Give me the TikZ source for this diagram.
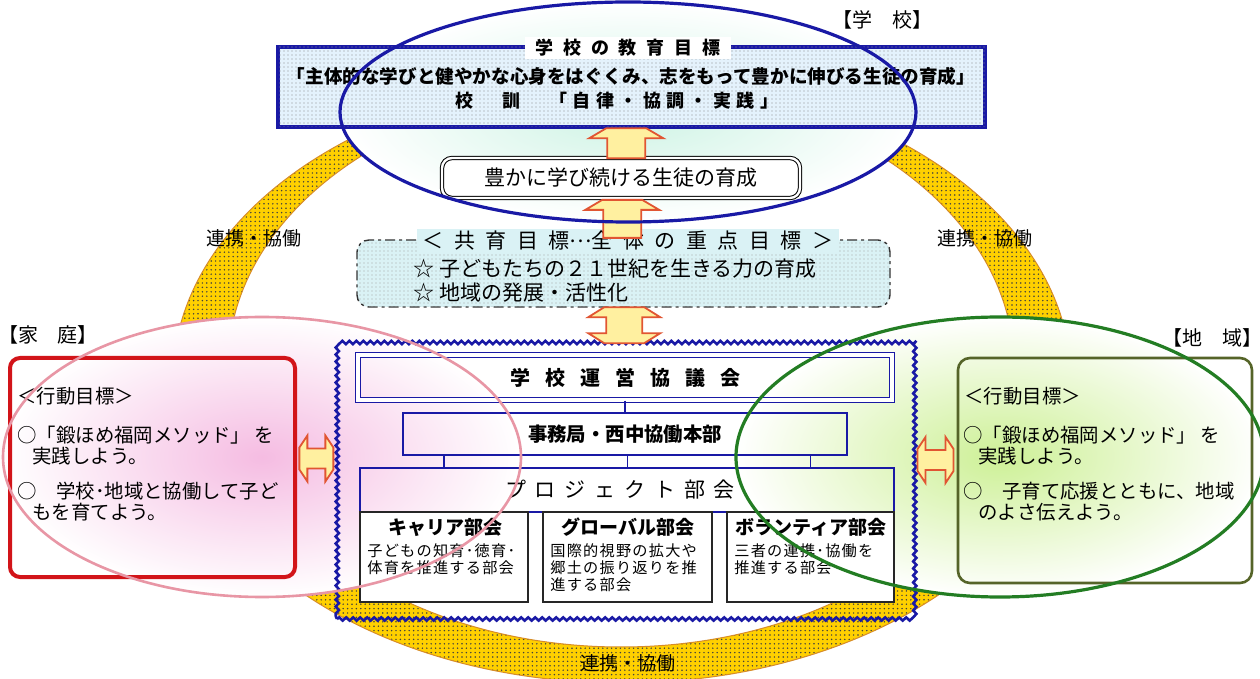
\documentclass[tikz,border=0pt]{standalone}
\usepackage{fontspec}
\setmainfont{Noto Sans CJK JP}
\usetikzlibrary{patterns.meta,decorations.pathmorphing,calc}
\definecolor{blueL}{RGB}{25,25,165}
\definecolor{ringY}{RGB}{255,208,0}
\definecolor{ringE}{RGB}{215,140,40}
\definecolor{pinkL}{RGB}{232,150,165}
\definecolor{pinkF}{RGB}{245,188,226}
\definecolor{greenL}{RGB}{35,125,35}
\definecolor{greenF}{RGB}{205,240,150}
\definecolor{mint}{RGB}{205,243,228}
\definecolor{redB}{RGB}{210,20,25}
\definecolor{oliveB}{RGB}{85,100,40}
\definecolor{arrE}{RGB}{225,85,50}
\definecolor{arrF}{RGB}{255,240,160}
\definecolor{topF}{RGB}{228,242,252}
\definecolor{kyoF}{RGB}{218,242,245}
\newcommand\fsz[1]{\fontsize{#1}{\dimexpr#1*6/5\relax}\selectfont}
\newcommand\fszb[2]{\fontsize{#1}{#2}\selectfont}
\newcommand\spc[2]{{\addfontfeature{LetterSpace=#1}#2}}
\tikzset{
  lbl/.style={inner sep=0pt, font=\fsz{10pt}},
  dotfill/.style={postaction={pattern color=#1, pattern={Dots[distance=2pt,radius=0.35pt]}}},
  blockarr/.style={draw=arrE, line width=0.9pt, fill=arrF, line join=miter},
  pics/uparr/.style={code={\path[blockarr] (-19,#1) -- (-19,-#1+10) -- (-37,-#1+10) -- (-20,-#1) -- (20,-#1) -- (37,-#1+10) -- (19,-#1+10) -- (19,#1) -- cycle;}},
  pics/vdarr/.style={code={\path[blockarr] (-20,-#1) -- (20,-#1) -- (36,-#1+10) -- (18,-#1+10) -- (18,#1-10) -- (36,#1-10) -- (20,#1) -- (-20,#1) -- (-36,#1-10) -- (-18,#1-10) -- (-18,-#1+10) -- (-36,-#1+10) -- cycle;}},
  pics/hdarr/.style={code={\path[blockarr] (-#1,-11) -- (-#1+8,-23) -- (-#1+8,-10) -- (#1-8,-10) -- (#1-8,-23) -- (#1,-11) -- (#1,11) -- (#1-8,23) -- (#1-8,10) -- (-#1+8,10) -- (-#1+8,23) -- (-#1,11) -- cycle;}},
  subbox/.style={draw=black!85, line width=0.6pt, fill=white, minimum height=45pt},
  subtitle/.style={inner sep=0pt, font=\bfseries\fsz{9.5pt}},
  subdesc/.style={inner sep=0pt, anchor=north west, align=left, font=\fszb{7.6pt}{8.5pt}},
  sidetxt/.style={inner sep=0pt, anchor=north west, align=left, font=\fszb{9.7pt}{10.5pt}},
}
\begin{document}
\begin{tikzpicture}[x=0.5pt,y=-0.5pt]
\useasboundingbox (0,0) rectangle (1260,679);
\fill[white] (0,0) rectangle (1260,679);
% ring
\path[fill=ringY, even odd rule] (622,380) ellipse [x radius=449, y radius=303] (621,366.5) ellipse [x radius=393, y radius=280.5];
\path[even odd rule, pattern color=black!75, pattern={Dots[distance=2.2pt,radius=0.42pt]}] (622,380) ellipse [x radius=449, y radius=303] (621,366.5) ellipse [x radius=393, y radius=280.5];
\draw[ringE, line width=0.5pt] (622,380) ellipse [x radius=449, y radius=303];
\draw[ringE, line width=0.5pt] (621,366.5) ellipse [x radius=393, y radius=280.5];
% ellipse fills
\shade[inner color=mint, outer color=white] (628,112) ellipse [x radius=288, y radius=110];
\shade[inner color=pinkF, outer color=white] (262,457) ellipse [x radius=259, y radius=140];
\shade[inner color=greenF, outer color=white] (1000,457) ellipse [x radius=264, y radius=140];
% labels on ring
\node[inner sep=0pt, font=\fsz{9.5pt}] (rl) at (254,238) {連携・協働};
\node[inner sep=0pt, font=\fsz{9.5pt}] (rr) at (985,238) {連携・協働};
\node[inner sep=0pt, font=\fsz{9.5pt}] (rb) at (628,663) {連携・協働};
% top goal
\node[draw=blueL, line width=2pt, fill=topF, dotfill=black!45, minimum width=353.5pt, minimum height=40pt] (goal) at (631.5,87) {};
\node[fill=white, inner xsep=5pt, inner ysep=1pt, font=\bfseries\fsz{9pt}] (goalt) at (628,48) {\spc{55}{学校の教育目標}};
\node[inner sep=0pt, font=\bfseries\fsz{9.3pt}] (goal1) at (631,76) {「主体的な学びと健やかな心身をはぐくみ、志をもって豊かに伸びる生徒の育成」};
\node[inner sep=0pt, font=\bfseries\fsz{9pt}] (goal2) at (617,101) {\spc{30}{校　訓　「自律・協調・実践」}};
\node[lbl] (tschool) at (882,20) {【学　校】};
% yutaka
\node[draw, line width=0.5pt, double, double distance=1.2pt, rounded corners=5pt, fill=white, minimum width=179pt, minimum height=20pt, font=\fsz{10.5pt}] (yutaka) at (621,178) {豊かに学び続ける生徒の育成};
% kyoiku
\node[draw=black!80, line width=0.7pt, dash pattern=on 5pt off 2pt on 1.5pt off 2pt, rounded corners=6pt, fill=kyoF, dotfill=black!35, minimum width=266.5pt, minimum height=33.5pt] (kyo) at (623.5,273.5) {};
\node[fill=kyoF, inner xsep=3pt, inner ysep=1pt, font=\fsz{10.5pt}] (kyot) at (628,241) {\spc{50}{＜共育目標\raisebox{0.33em}{…}全体の重点目標＞}};
\node[inner sep=0pt, anchor=north west, align=left, font=\fszb{10.5pt}{12pt}] (kyoi) at (413,258) {☆ 子どもたちの２１世紀を生きる力の育成\\☆ 地域の発展・活性化};
% council (wavy)
\node[draw=blueL, line width=1.3pt, decorate, decoration={snake, segment length=3.5pt, amplitude=0.8pt}, minimum width=288pt, minimum height=137.5pt] (council) at (625,481.5) {};
\node[draw=blueL, line width=0.6pt, double, double distance=1.6pt, minimum width=267pt, minimum height=22.5pt, font=\bfseries\fsz{10pt}] (kyogi) at (625,377.5) {\spc{75}{学校運営協議会}};
\node[draw=blueL, line width=1.3pt, minimum width=222pt, minimum height=21pt, font=\bfseries\fsz{9.7pt}] (jimu) at (625,434) {事務局・西中協働本部};
\node[draw=blueL, line width=1.1pt, minimum width=267pt, minimum height=22pt] (proj) at (627,490) {};
\node[inner sep=0pt, font=\fsz{10.5pt}] (projt) at (620,490) {\spc{42}{プロジェクト部会}};
\node[subbox, minimum width=84pt] (sub1) at (444,557) {};
\node[subbox, minimum width=84.5pt] (sub2) at (627.5,557) {};
\node[subbox, minimum width=83.5pt] (sub3) at (810.5,557) {};
\node[subtitle] (st1) at (445,527) {キャリア部会};
\node[subtitle] (st2) at (628,527) {グローバル部会};
\node[subtitle] (st3) at (811,527) {ボランティア部会};
\node[subdesc] (sd1) at (367,543) {\spc{8}{子どもの知育･徳育･}\\\spc{8}{体育を推進する部会}};
\node[subdesc] (sd2) at (550,543) {\spc{8}{国際的視野の拡大や}\\\spc{8}{郷土の振り返りを推}\\\spc{8}{進する部会}};
\node[subdesc] (sd3) at (734,543) {\spc{8}{三者の連携･協働を}\\\spc{8}{推進する部会}};
\draw[blueL, line width=0.6pt] (kyogi.south) -- (jimu.north);
\draw[blueL, line width=0.6pt] (sub1.north |- jimu.south) -- (sub1.north |- proj.north);
\draw[blueL, line width=0.6pt] (sub2.north |- jimu.south) -- (sub2.north |- proj.north);
\draw[blueL, line width=0.6pt] (sub3.north |- jimu.south) -- (sub3.north |- proj.north);
% home
\node[draw=redB, line width=2pt, rounded corners=5pt, minimum width=142.5pt, minimum height=109.5pt] (home) at (152.5,467.5) {};
\node[lbl] (thome) at (48,335) {【家　庭】};
\node[sidetxt] (h0) at (17,387) {＜行動目標＞};
\node[sidetxt] (h1) at (17,426) {○「鍛ほめ福岡メソッド」 を\\\hspace{7.5pt}実践しよう。};
\node[sidetxt] (h2) at (17,482) {○　学校･地域と協働して子ど\\\hspace{7.5pt}もを育てよう。};
% region
\node[draw=oliveB, line width=1.3pt, rounded corners=6pt, minimum width=147pt, minimum height=112.5pt] (region) at (1105,470.5) {};
\node[lbl] (tregion) at (1212,338) {【地　域】};
\node[sidetxt] (r0) at (964,387) {＜行動目標＞};
\node[sidetxt] (r1) at (963,426) {○「鍛ほめ福岡メソッド」 を\\\hspace{7.5pt}実践しよう。};
\node[sidetxt] (r2) at (963,482) {○　子育て応援とともに、地域\\\hspace{7.5pt}のよさ伝えよう。};
% block arrows
\coordinate (a1) at ($(goal.south)!0.5!(yutaka.north)$);
\coordinate (a2) at ($(yutaka.south)!0.5!(kyo.north)$);
\coordinate (a3) at ($(kyo.south)!0.5!(council.north)$);
\coordinate (a4) at ($(home.east)!0.5!(council.west)+(0,-16)$);
\coordinate (a5) at ($(council.east)!0.5!(region.west)+(0,-16)$);
\pic at (a1) {uparr=15};
\pic at (a2) {uparr=19};
\pic at (a3) {vdarr=18};
\pic at (a4) {hdarr=17};
\pic at (a5) {hdarr=18};
% ellipse outlines
\draw[blueL, line width=1.6pt] (628,112) ellipse [x radius=288, y radius=110];
\draw[pinkL, line width=1.3pt] (262,457) ellipse [x radius=259, y radius=140];
\draw[greenL, line width=1.6pt] (1000,457) ellipse [x radius=264, y radius=140];
\end{tikzpicture}
\end{document}
